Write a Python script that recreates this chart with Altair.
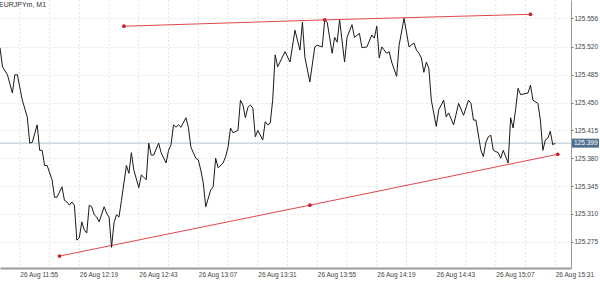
import altair as alt
import pandas as pd

# EURJPYm M1 close prices (time HH:MM, price)
times = ["11:47","11:48","11:50","11:52","11:53","11:54","11:56","11:58","11:59","12:00",
         "12:02","12:03","12:04","12:05","12:06","12:08","12:09","12:10","12:12","12:13",
         "12:14","12:15","12:16","12:17","12:18","12:19","12:20","12:21","12:22","12:23",
         "12:24","12:25","12:26","12:27","12:29","12:30","12:31","12:32","12:33","12:34",
         "12:35","12:36","12:38","12:39","12:40","12:41","12:43","12:44","12:45","12:46",
         "12:47","12:48","12:49","12:51","12:52","12:54","12:55","12:56","12:57","12:58",
         "12:59","13:00","13:02","13:03","13:04","13:06","13:07","13:08","13:09","13:10",
         "13:12","13:13","13:14","13:15","13:17","13:18","13:19","13:20","13:21","13:23",
         "13:24","13:25","13:26","13:27","13:28","13:29","13:30","13:31","13:33","13:34",
         "13:35","13:36","13:37","13:38","13:39","13:42","13:44","13:46","13:48","13:49",
         "13:50","13:52","13:54","13:55","13:57","13:58","13:59","14:01","14:02","14:03",
         "14:04","14:06","14:07","14:09","14:10","14:12","14:13","14:15","14:17","14:18",
         "14:19","14:20","14:21","14:23","14:24","14:25","14:27","14:28","14:30","14:32",
         "14:34","14:35","14:36","14:37","14:38","14:39","14:40","14:41","14:43","14:44",
         "14:46","14:47","14:48","14:50","14:52","14:54","14:56","14:57","14:58","14:59",
         "15:01","15:02","15:03","15:04","15:05","15:06","15:08","15:09","15:10","15:12",
         "15:13","15:14","15:15","15:16","15:17","15:20","15:21","15:22","15:24","15:25",
         "15:26","15:27","15:28","15:29","15:30","15:31"]
prices = [125.519,125.495,125.485,125.462,125.485,125.485,125.453,125.432,125.399,125.400,
          125.422,125.390,125.390,125.371,125.371,125.353,125.331,125.331,125.344,125.327,
          125.325,125.321,125.325,125.321,125.277,125.280,125.300,125.290,125.286,125.321,
          125.319,125.309,125.306,125.300,125.319,125.311,125.306,125.268,125.299,125.309,
          125.306,125.327,125.371,125.361,125.387,125.365,125.343,125.359,125.356,125.353,
          125.399,125.384,125.384,125.399,125.387,125.374,125.390,125.397,125.422,125.419,
          125.422,125.419,125.431,125.419,125.394,125.380,125.378,125.365,125.349,125.319,
          125.340,125.344,125.380,125.368,125.374,125.382,125.394,125.418,125.412,125.415,
          125.453,125.447,125.431,125.444,125.447,125.443,125.407,125.415,125.403,125.426,
          125.422,125.424,125.453,125.510,125.495,125.514,125.501,125.541,125.516,125.551,
          125.507,125.476,125.520,125.522,125.520,125.554,125.551,125.512,125.532,125.526,
          125.554,125.501,125.532,125.548,125.532,125.537,125.519,125.520,125.535,125.531,
          125.546,125.506,125.520,125.512,125.514,125.501,125.483,125.522,125.556,125.520,
          125.525,125.516,125.512,125.506,125.488,125.501,125.493,125.453,125.420,125.441,
          125.453,125.432,125.437,125.422,125.449,125.434,125.453,125.449,125.428,125.428,
          125.390,125.382,125.400,125.407,125.409,125.390,125.387,125.380,125.390,125.374,
          125.431,125.418,125.441,125.468,125.460,125.462,125.472,125.453,125.449,125.428,
          125.390,125.403,125.405,125.414,125.397,125.399]

# Trend lines (anchor points)
upper_times = ["12:37", "13:58", "15:21"]
upper_prices = [125.546, 125.554, 125.561]
lower_times = ["12:11", "13:52", "15:32"]
lower_prices = [125.257, 125.321, 125.385]

current_price = 125.399

x_label_times = ["11:55","12:19","12:43","13:07","13:31","13:55","14:19","14:43","15:07","15:31"]
x_grid_times = ["11:55","12:07","12:19","12:31","12:43","12:55","13:07","13:19","13:31","13:43",
                "13:55","14:07","14:19","14:31","14:43","14:55","15:07","15:19","15:31"]
y_ticks = [125.275, 125.310, 125.345, 125.380, 125.415, 125.450, 125.485, 125.520, 125.556]
x_domain = ["11:47", "15:37"]
y_domain = [125.242, 125.579]


def to_min(s):
    h, m = s.split(":")
    return int(h) * 60 + int(m)


df = pd.DataFrame({"t": [to_min(s) for s in times], "price": prices})
up = pd.DataFrame({"t": [to_min(s) for s in upper_times], "price": upper_prices})
lo = pd.DataFrame({"t": [to_min(s) for s in lower_times], "price": lower_prices})
grid_df = pd.DataFrame({"t": [to_min(s) for s in x_grid_times]})
cur = pd.DataFrame({"price": [current_price], "label": [f"{current_price:.3f}"]})

FONT = "Liberation Sans"
xd = [to_min(x_domain[0]), to_min(x_domain[1]) + 0.35]

xscale = alt.Scale(domain=xd, nice=False, zero=False)
yscale = alt.Scale(domain=y_domain, nice=False, zero=False)

label_expr = ("'26 Aug ' + floor(datum.value/60) + ':' + "
              "(datum.value%60 < 10 ? '0' : '') + (datum.value%60)")

x_axis = alt.Axis(values=[to_min(s) for s in x_label_times], labelExpr=label_expr,
                  grid=False, ticks=False, labelAlign="left", labelPadding=3,
                  labelFont=FONT, labelFontSize=6.5, labelColor="#444",
                  domainColor="#9a9a9a", domainWidth=2, title=None, labelFlush=False,
                  labelOverlap=False)
y_axis = alt.Axis(orient="right", values=y_ticks, format=".3f", grid=True,
                  gridDash=[2, 2], gridColor="#e4e4e4", tickSize=2, tickColor="#777",
                  labelPadding=1, labelFont=FONT, labelFontSize=6.5, labelColor="#444",
                  domainColor="#9a9a9a", domainWidth=1, title=None, labelFlush=False,
                  labelOverlap=False, labelBound=False)


def X():
    return alt.X("t:Q", scale=xscale, axis=x_axis)


def Y():
    return alt.Y("price:Q", scale=yscale, axis=y_axis)


vgrid = alt.Chart(grid_df).mark_rule(color="#e4e4e4", strokeDash=[2, 2], strokeWidth=1).encode(
    x=X())

price_line = alt.Chart(cur).mark_rule(color="#b3c2cc", strokeWidth=1).encode(y=Y())

line = alt.Chart(df).mark_line(color="#1a1a1a", strokeWidth=1).encode(x=X(), y=Y())

tl_style = dict(color="#e0474c", strokeWidth=1)
upper_line = alt.Chart(up).mark_line(**tl_style).encode(x=X(), y=Y())
lower_line = alt.Chart(lo).mark_line(**tl_style).encode(x=X(), y=Y())
upper_pts = alt.Chart(up).mark_circle(color="#c8232a", size=14, opacity=1).encode(x=X(), y=Y())
lower_pts = alt.Chart(lo).mark_circle(color="#c8232a", size=14, opacity=1).encode(x=X(), y=Y())

box = alt.Chart(cur).mark_rect(color="#4f6f8f", height=9).encode(
    x=alt.value(572), x2=alt.value(599), y=Y())
box_text = alt.Chart(cur).mark_text(color="white", font=FONT, fontSize=6.5,
                                    align="left", baseline="middle").encode(
    x=alt.value(574), y=Y(), text="label:N")

title = alt.Chart(cur).mark_text(color="#333", font=FONT, fontSize=7, align="left",
                                 baseline="middle").encode(
    x=alt.value(-1), y=alt.value(5), text=alt.value("EURJPYm, M1"))

chart = alt.layer(vgrid, price_line, upper_line, lower_line, line, upper_pts, lower_pts,
                  box, box_text, title).properties(
    width=571, height=268,
    autosize=alt.AutoSizeParams(type="none"),
    padding={"left": 0, "top": 0, "right": 29, "bottom": 16},
    background="white",
).configure_view(stroke=None).configure_axis(labelOverlap=False)

chart.save("out.html", embed_options={"renderer": "svg", "actions": False})
